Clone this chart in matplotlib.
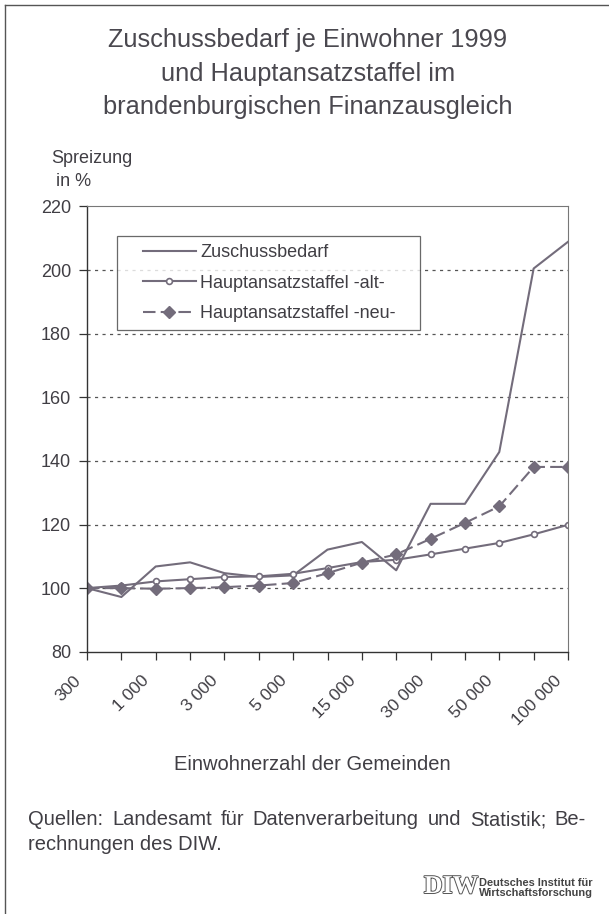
import numpy as np
import matplotlib
matplotlib.use('Agg')
import matplotlib.pyplot as plt
import matplotlib.patheffects as pe
import matplotlib.transforms as mtransforms
from matplotlib.lines import Line2D
from matplotlib.legend_handler import HandlerLine2D

plt.rcParams['font.family'] = ['Liberation Sans', 'DejaVu Sans']

# 15 size classes of municipalities, every second one labelled
tick_labels = ['300', '1 000', '3 000', '5 000', '15 000', '30 000', '50 000', '100 000']
zuschuss = [100, 97.2, 106.8, 108.1, 104.7, 103.5, 104.0, 112.1, 114.5, 105.6,
            126.5, 126.5, 142.8, 200.5, 208.9]
staffel_alt = [100, 100.8, 102.1, 102.8, 103.5, 103.7, 104.5, 106.3, 108.2, 108.9,
               110.6, 112.4, 114.2, 116.9, 119.9]
staffel_neu = [100, 100, 99.8, 100, 100.3, 100.8, 101.6, 104.7, 108.0, 110.6,
               115.5, 120.5, 125.7, 138.1, 138.1]

col = '#736c7b'
txt = '#403e44'

W, H = 609, 914
fig = plt.figure(figsize=(W / 100, H / 100), dpi=100)
fig.patch.set_facecolor('white')

# outer frame (left and top only)
fig.add_artist(Line2D([5 / W, 5 / W], [0, 1 - 5 / H], color='#555555', lw=1.0))
fig.add_artist(Line2D([5 / W, 1], [1 - 5 / H, 1 - 5 / H], color='#555555', lw=1.0))

ax_l, ax_r, ax_t, ax_b = 87, 568, 206.5, 651.7
ax = fig.add_axes([ax_l / W, 1 - ax_b / H, (ax_r - ax_l) / W, (ax_b - ax_t) / H])

x = np.arange(len(zuschuss))
ax.plot(x, zuschuss, '-', color=col, lw=1.5, label='Zuschussbedarf')
ax.plot(x, staffel_alt, '-', color=col, lw=1.5, marker='o', ms=4.2,
        mfc='white', mec=col, mew=1.2, label='Hauptansatzstaffel -alt-')
ax.plot(x, staffel_neu, color=col, lw=1.5, dashes=(6, 2.5), marker='D', ms=6.3,
        mfc=col, mec=col, label='Hauptansatzstaffel -neu-')

ax.set_xlim(0, 14)
ax.set_ylim(80, 220)
ax.set_yticks(np.arange(80, 221, 20))
ax.set_xticks(x)
ax.tick_params(axis='both', direction='out', length=5.5, width=0.9, color='#333333')
ax.tick_params(axis='y', pad=6)
ax.tick_params(axis='x', pad=9)
ax.set_xticklabels([tick_labels[i // 2] if i % 2 == 0 else '' for i in x],
                   rotation=45, ha='right', va='top', rotation_mode='anchor',
                   fontsize=12.5, color=txt)
# nudge the slanted labels to the left (after tick_params, which resets transforms)
shift = mtransforms.ScaledTranslation(-14 / 100, -1 / 100, fig.dpi_scale_trans)
for lab in ax.get_xticklabels():
    lab.set_transform(lab.get_transform() + shift)
for lab in ax.get_yticklabels():
    lab.set_fontsize(13)
    lab.set_color(txt)

for y in range(100, 201, 20):
    ax.axhline(y, color='#555555', lw=0.9, ls=(0, (2.5, 3.5)), zorder=0)

for s in ['left', 'bottom']:
    ax.spines[s].set_color('#333333')
    ax.spines[s].set_linewidth(1.0)
for s in ['top', 'right']:
    ax.spines[s].set_color('#777777')
    ax.spines[s].set_linewidth(0.8)

# legend box spanning 117..420 px horizontally, top at 236 px
lx0, lx1, ly0, ly1 = 117, 420, 236, 329
aw, ah = ax_r - ax_l, ax_b - ax_t
hmap = {l: HandlerLine2D(xpad=1.0) for l in ax.get_lines()}
leg = ax.legend(loc='upper left',
                bbox_to_anchor=((lx0 - ax_l) / aw, 1 - (ly1 - ax_t) / ah,
                                (lx1 - lx0) / aw, (ly1 - ly0) / ah),
                mode='expand', handler_map=hmap,
                fontsize=13, frameon=True, fancybox=False, borderpad=0.45,
                handlelength=3.9, handletextpad=0.25, labelspacing=0.75,
                borderaxespad=0)
leg.get_frame().set_edgecolor('#444444')
leg.get_frame().set_linewidth(0.9)
for t in leg.get_texts():
    t.set_color(txt)

# titles and labels
for yy, s in [(47, 'Zuschussbedarf je Einwohner 1999'),
              (81, 'und Hauptansatzstaffel im'),
              (114, 'brandenburgischen Finanzausgleich')]:
    fig.text(308 / W, 1 - yy / H, s, ha='center', va='baseline', fontsize=18.3, color='#4a484f')
fig.text(51 / W, 1 - 163 / H, 'Spreizung', ha='left', va='baseline', fontsize=13, color=txt)
fig.text(56 / W, 1 - 186 / H, 'in %', ha='left', va='baseline', fontsize=13, color=txt)
fig.text(312 / W, 1 - 770 / H, 'Einwohnerzahl der Gemeinden', ha='center', va='baseline',
         fontsize=14.5, color=txt)

# source note, first line justified to the full width
line1 = 'Quellen: Landesamt für Datenverarbeitung und Statistik; Be-'.split(' ')
x0, x1 = 28, 586
fig.canvas.draw()
r = fig.canvas.get_renderer()
tmp = [fig.text(0, 0, w, fontsize=14.5) for w in line1]
widths = [t.get_window_extent(r).width for t in tmp]
for t in tmp:
    t.remove()
gap = (x1 - x0 - sum(widths)) / (len(line1) - 1)
pos = x0
for w, wd in zip(line1, widths):
    fig.text(pos / W, 1 - 825 / H, w, ha='left', va='baseline', fontsize=14.5, color=txt)
    pos += wd + gap
fig.text(x0 / W, 1 - 850 / H, 'rechnungen des DIW.', ha='left', va='baseline',
         fontsize=14.5, color=txt)

# DIW logo
fig.text(424 / W, 1 - 893 / H, 'DIW', ha='left', va='baseline', fontsize=18.5,
         family='Liberation Serif', weight='bold', color='white',
         path_effects=[pe.withStroke(linewidth=1.4, foreground='#555555')])
fig.text(479 / W, 1 - 886 / H, 'Deutsches Institut für', ha='left', va='baseline',
         fontsize=7.9, weight='bold', color='#444444')
fig.text(479 / W, 1 - 895.5 / H, 'Wirtschaftsforschung', ha='left', va='baseline',
         fontsize=7.9, weight='bold', color='#444444')

fig.savefig('out.png', dpi=100, facecolor='white')
